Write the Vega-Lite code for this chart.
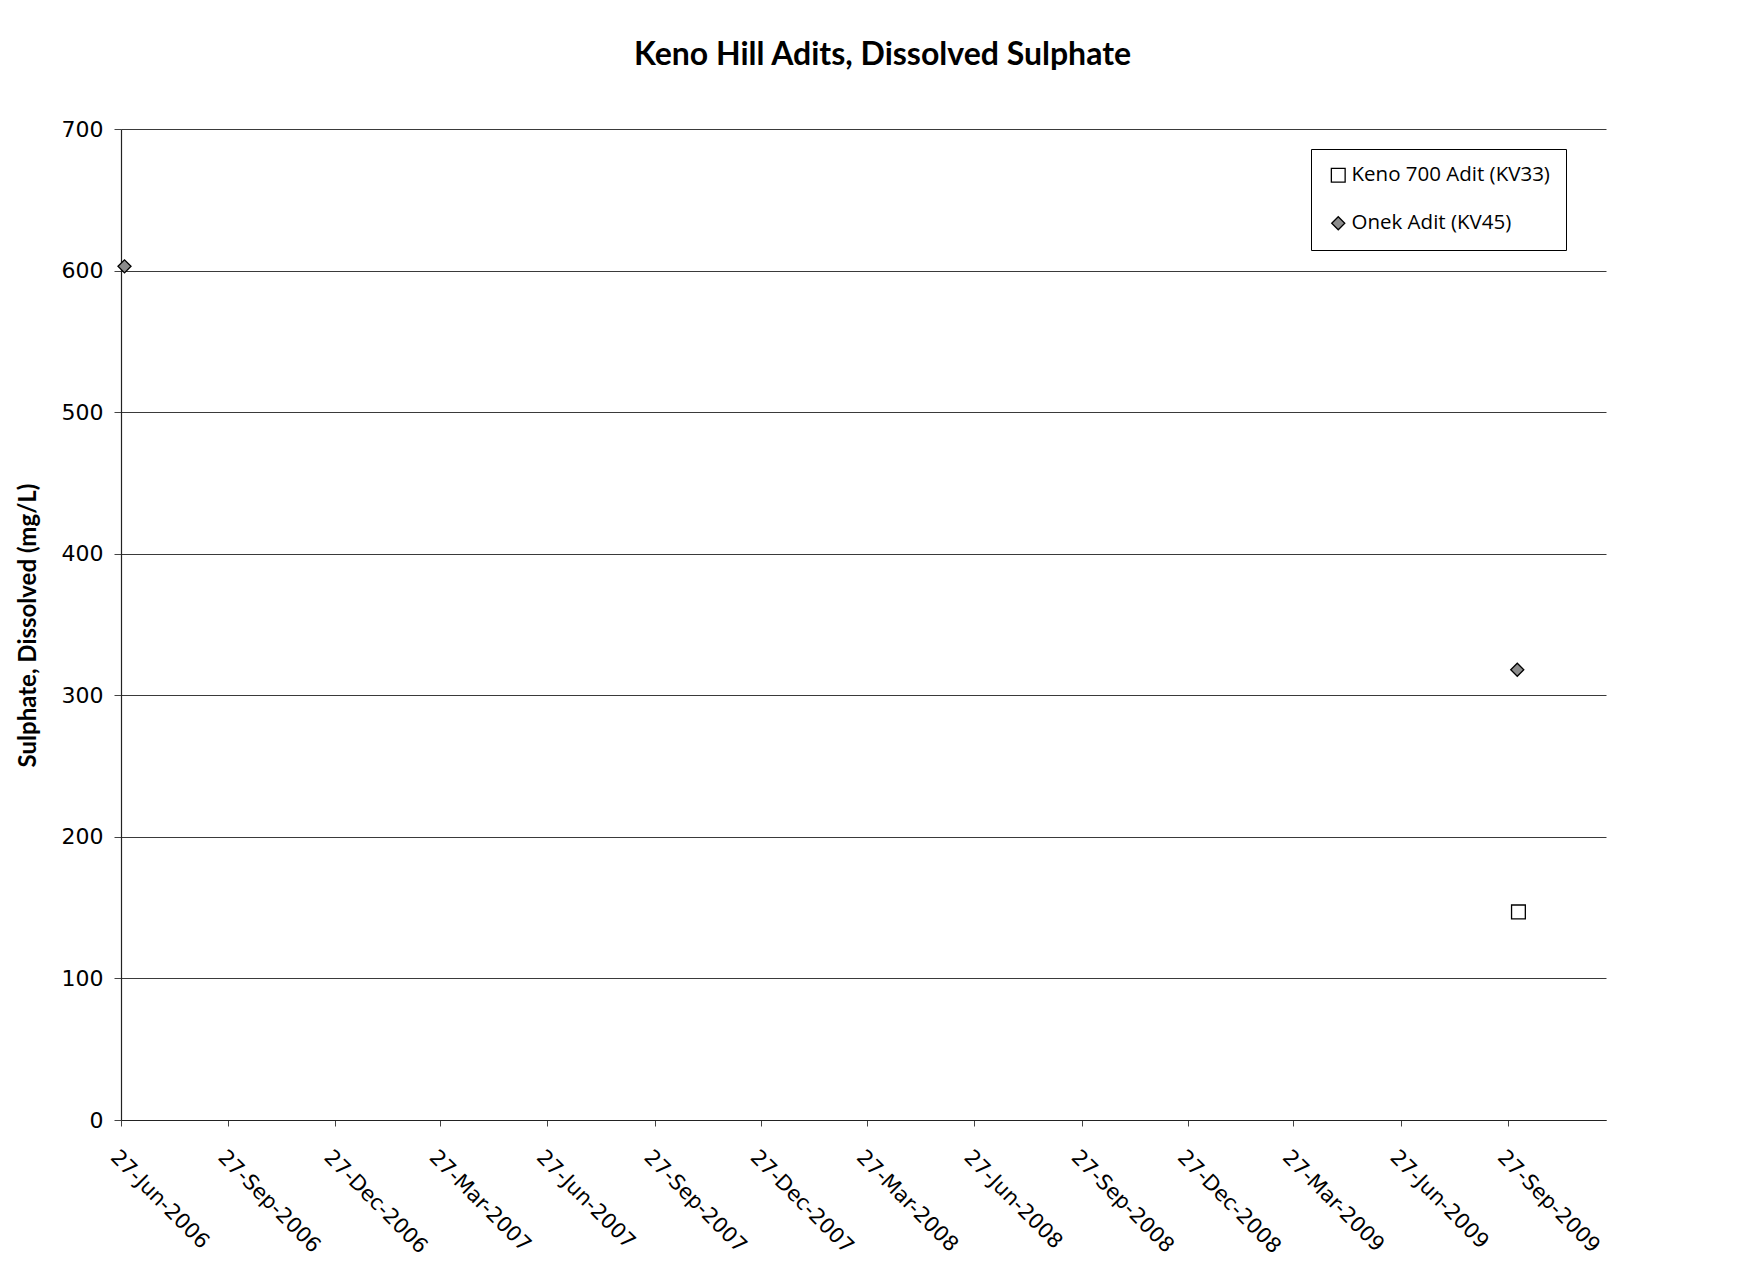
{
  "$schema": "https://vega.github.io/schema/vega-lite/v6.json",
  "autosize": {"type": "none"},
  "padding": {"left": 121, "top": 129, "right": 149, "bottom": 152},
  "width": 1485,
  "height": 991,
  "background": "white",
  "title": {
    "text": "Keno Hill Adits, Dissolved Sulphate",
    "font": "Lato",
    "fontWeight": "bold",
    "fontSize": 32,
    "color": "black",
    "anchor": "middle",
    "frame": "group",
    "dx": 19,
    "offset": 46
  },
  "data": {
    "values": [
      {"date": "2006-06-30", "site": "Onek Adit (KV45)", "sulphate": 603},
      {"date": "2009-10-05", "site": "Onek Adit (KV45)", "sulphate": 318},
      {"date": "2009-10-06", "site": "Keno 700 Adit (KV33)", "sulphate": 147}
    ]
  },
  "mark": {"type": "point", "filled": false, "stroke": "black", "strokeWidth": 1.3, "opacity": 1},
  "encoding": {
    "x": {
      "field": "date",
      "type": "temporal",
      "scale": {
        "domain": [{"year": 2006, "month": 6, "date": 27}, {"year": 2009, "month": 12, "date": 20}],
        "nice": false
      },
      "axis": {
        "title": null,
        "values": [
          {"year": 2006, "month": 6, "date": 27},
          {"year": 2006, "month": 9, "date": 27},
          {"year": 2006, "month": 12, "date": 27},
          {"year": 2007, "month": 3, "date": 27},
          {"year": 2007, "month": 6, "date": 27},
          {"year": 2007, "month": 9, "date": 27},
          {"year": 2007, "month": 12, "date": 27},
          {"year": 2008, "month": 3, "date": 27},
          {"year": 2008, "month": 6, "date": 27},
          {"year": 2008, "month": 9, "date": 27},
          {"year": 2008, "month": 12, "date": 27},
          {"year": 2009, "month": 3, "date": 27},
          {"year": 2009, "month": 6, "date": 27},
          {"year": 2009, "month": 9, "date": 27}
        ],
        "format": "%d-%b-%Y",
        "labelAngle": 45,
        "labelAlign": "left",
        "labelBaseline": "top",
        "labelFont": "DejaVu Sans",
        "labelFontSize": 21,
        "labelColor": "black",
        "labelPadding": 20,
        "labelOverlap": false,
        "labelFlush": false,
        "grid": false,
        "domainColor": "#222222",
        "domainWidth": 1.2,
        "tickColor": "#444444",
        "tickSize": 6
      }
    },
    "y": {
      "field": "sulphate",
      "type": "quantitative",
      "scale": {"domain": [0, 700], "nice": false},
      "axis": {
        "title": "Sulphate, Dissolved (mg/L)",
        "titleFont": "Lato",
        "titleFontWeight": "bold",
        "titleFontSize": 24,
        "titleColor": "black",
        "titleAngle": -90,
        "titleAlign": "center",
        "titleBaseline": "middle",
        "titleX": -93,
        "titleY": 496,
        "values": [0, 100, 200, 300, 400, 500, 600, 700],
        "labelFont": "DejaVu Sans",
        "labelFontSize": 22,
        "labelColor": "black",
        "labelPadding": 11,
        "grid": true,
        "gridColor": "#3a3a3a",
        "gridWidth": 1,
        "domainColor": "#222222",
        "domainWidth": 1.2,
        "tickColor": "#444444",
        "tickSize": 7
      }
    },
    "shape": {
      "field": "site",
      "type": "nominal",
      "title": null,
      "scale": {"domain": ["Keno 700 Adit (KV33)", "Onek Adit (KV45)"], "range": ["square", "diamond"]},
      "legend": {
        "orient": "none",
        "legendX": 1190,
        "legendY": 20,
        "strokeColor": "black",
        "fillColor": "white",
        "padding": 16,
        "rowPadding": 27,
        "labelFont": "Open Sans",
        "labelFontSize": 20.5,
        "labelColor": "black",
        "symbolStrokeColor": "black",
        "symbolStrokeWidth": 1.3,
        "symbolOffset": 1,
        "labelOffset": 3,
        "labelLimit": 400
      }
    },
    "fill": {
      "field": "site",
      "type": "nominal",
      "title": null,
      "scale": {"domain": ["Keno 700 Adit (KV33)", "Onek Adit (KV45)"], "range": ["white", "#8c8c8c"]}
    },
    "size": {
      "field": "site",
      "type": "nominal",
      "title": null,
      "scale": {"domain": ["Keno 700 Adit (KV33)", "Onek Adit (KV45)"], "range": [190, 170]}
    }
  },
  "config": {
    "view": {"stroke": null}
  }
}
